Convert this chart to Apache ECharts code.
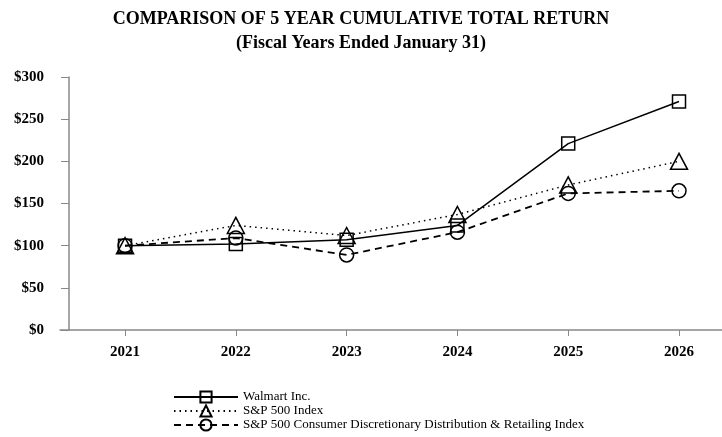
<!DOCTYPE html>
<html>
<head>
<meta charset="utf-8">
<script src="https://cdn.jsdelivr.net/npm/echarts@6/dist/echarts.min.js"></script>
<style>
html, body { margin: 0; padding: 0; background: #fff; }
#chart { width: 722px; height: 437px; }
</style>
</head>
<body>
<div id="chart"></div>
<script>
// fiscal years and cumulative returns ($100 base)
var years = [2021, 2022, 2023, 2024, 2025, 2026];
var walmart = [100, 102, 107, 124, 221, 271];
var sp500 = [100, 124, 112, 137, 172, 200];
var consumerDisc = [100, 109, 89, 116, 162, 165];

var font = '"Liberation Serif", "DejaVu Serif", serif';
var chart = echarts.init(document.getElementById('chart'));

function pairs(vals) {
	return vals.map(function (v, i) { return [years[i], v]; });
}

var markerStyle = { color: 'transparent', borderColor: '#000', borderWidth: 1.5 };

var option = {
	animation: false,
	title: {
		text: 'COMPARISON OF 5 YEAR CUMULATIVE TOTAL RETURN\n(Fiscal Years Ended January 31)',
		left: 'center',
		top: 2,
		textStyle: { fontFamily: font, fontSize: 18, fontWeight: 'bold', color: '#000', lineHeight: 24 }
	},
	legend: {
		orient: 'vertical',
		left: 173,
		top: 390,
		padding: 0,
		itemWidth: 64,
		itemHeight: 14,
		itemGap: 0,
		textStyle: { fontFamily: font, fontSize: 13, lineHeight: 14, color: '#000' },
		data: ['Walmart Inc.', 'S&P 500 Index', 'S&P 500 Consumer Discretionary Distribution & Retailing Index']
	},
	grid: { left: 60, right: 0, top: 77, bottom: 107, containLabel: false },
	xAxis: {
		type: 'value',
		min: 2020.413,
		max: 2026.388,
		axisLine: { lineStyle: { color: '#888', width: 1.5 } },
		axisTick: { customValues: years, length: 6, lineStyle: { color: '#888' } },
		axisLabel: {
			customValues: years, margin: 15,
			fontFamily: font, fontSize: 15, fontWeight: 'bold', color: '#000',
			formatter: function (v) { return String(v); }
		},
		splitLine: { show: false }
	},
	yAxis: {
		type: 'value',
		min: 0,
		max: 300,
		interval: 50,
		offset: -9,
		axisLine: { show: true, lineStyle: { color: '#888', width: 1.5 } },
		axisTick: { show: true, length: 8, lineStyle: { color: '#888' } },
		axisLabel: {
			margin: 25, fontFamily: font, fontSize: 15, fontWeight: 'bold', color: '#000',
			formatter: function (v) { return '$' + v; }
		},
		splitLine: { show: false }
	},
	series: [
		{
			name: 'Walmart Inc.', type: 'line', data: pairs(walmart),
			symbol: 'rect', symbolSize: 13,
			lineStyle: { color: '#000', width: 1.5, type: 'solid' },
			itemStyle: markerStyle
		},
		{
			name: 'S&P 500 Index', type: 'line', data: pairs(sp500),
			symbol: 'triangle', symbolSize: [17, 16],
			lineStyle: { color: '#000', width: 1.5, type: [1.5, 4] },
			itemStyle: markerStyle
		},
		{
			name: 'S&P 500 Consumer Discretionary Distribution & Retailing Index', type: 'line', data: pairs(consumerDisc),
			symbol: 'circle', symbolSize: 14,
			lineStyle: { color: '#000', width: 1.8, type: [7, 5] },
			itemStyle: markerStyle
		}
	]
};

chart.setOption(option);
</script>
</body>
</html>
